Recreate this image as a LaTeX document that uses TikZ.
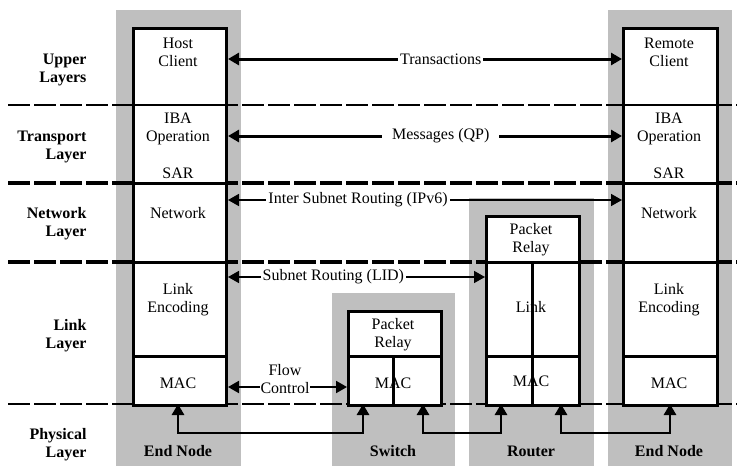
\documentclass[tikz,border=0pt]{standalone}
\usepackage{fontspec}
\setmainfont{Liberation Serif}
\usetikzlibrary{arrows.meta}

\begin{document}
\begin{tikzpicture}[
  x=1pt, y=-1pt,
  font=\fontsize{16}{18}\selectfont,
  column/.style={fill=black!25},
  box/.style={draw, line width=3pt, fill=white, anchor=north west, inner sep=0pt},
  sep/.style={line width=3pt},
  layerline/.style={line width=#1, dash pattern=on 22pt off 4pt},
  txt/.style={align=center, inner sep=1pt},
  layer/.style={anchor=east, align=right, font=\fontsize{16}{18}\selectfont\bfseries},
  tag/.style={font=\fontsize{16}{18}\selectfont\bfseries},
  conn/.style={{Triangle[length=11pt,width=12pt]}-{Triangle[length=11pt,width=12pt]}, line width=#1},
  conn/.default=1.6pt,
  onlabel/.style={fill=white, inner sep=2pt},
]
  \useasboundingbox (0,0) rectangle (737,466);

  % Grey node columns
  \fill[column] (116,10) rectangle (241,466);   % end node
  \fill[column] (332,293) rectangle (455,466);  % switch
  \fill[column] (469,198) rectangle (594,466);  % router
  \fill[column] (608,10) rectangle (732,466);   % remote end node

  % Layer boundaries
  \draw[layerline=1.8pt] (8,105) -- (737,105);
  \draw[layerline=3.2pt] (8,183) -- (737,183);
  \draw[layerline=3.2pt] (8,262) -- (737,262);
  \draw[layerline=1.6pt] (8,404) -- (737,404);

  % Stacks
  \node[box, minimum width=93pt, minimum height=377pt] (hostbox)   at (132,27) {};
  \node[box, minimum width=94pt, minimum height=377pt] (remotebox) at (622,27) {};
  \node[box, minimum width=93pt, minimum height=189pt] (routerbox) at (485,215) {};
  \node[box, minimum width=93pt, minimum height=94pt]  (switchbox) at (347,310) {};

  % Separators inside the stacks
  \foreach \xa/\xb in {132/225, 622/716} {
    \draw[line width=1.8pt] (\xa,105) -- (\xb,105);
    \draw[sep] (\xa,183) -- (\xb,183);
    \draw[sep] (\xa,262) -- (\xb,262);
    \draw[sep] (\xa,356) -- (\xb,356);
  }
  \draw[sep] (485,262) -- (578,262);
  \draw[sep] (485,356) -- (578,356);
  \draw[sep] (532,262) -- (532,404);
  \draw[sep] (347,356) -- (440,356);
  \draw[sep] (393,356) -- (393,404);

  % Layer names
  \node[layer] (upper)     at (90,70)  {Upper\\Layers};
  \node[layer] (transport) at (90,147) {Transport\\Layer};
  \node[layer] (network)   at (90,224) {Network\\Layer};
  \node[layer] (link)      at (90,336) {Link\\Layer};
  \node[layer] (physical)  at (90,445) {Physical\\Layer};

  % End node
  \node[txt] (hostclient) at (178,52)  {Host\\Client};
  \node[txt] (hostiba)    at (178,129) {IBA\\Operation};
  \node[txt] (hostsar)    at (178,173) {SAR};
  \node[txt] (hostnet)    at (178,213) {Network};
  \node[txt] (hostlink)   at (178,300) {Link\\Encoding};
  \node[txt] (hostmac)    at (178,383) {MAC};

  % Remote end node
  \node[txt] (remoteclient) at (669,52)  {Remote\\Client};
  \node[txt] (remoteiba)    at (669,129) {IBA\\Operation};
  \node[txt] (remotesar)    at (669,173) {SAR};
  \node[txt] (remotenet)    at (669,213) {Network};
  \node[txt] (remotelink)   at (669,300) {Link\\Encoding};
  \node[txt] (remotemac)    at (669,383) {MAC};

  % Router and switch
  \node[txt] (routerrelay) at (531,240) {Packet\\Relay};
  \node[txt] (routerlink)  at (531,307) {Link};
  \node[txt] (routermac)   at (531,381) {MAC};
  \node[txt] (switchrelay) at (393,335) {Packet\\Relay};
  \node[txt] (switchmac)   at (393,383) {MAC};

  % Node names
  \node[tag] (hostname)   at (178,451) {End Node};
  \node[tag] (switchname) at (393,451) {Switch};
  \node[tag] (routername) at (531,451) {Router};
  \node[tag] (remotename) at (669,451) {End Node};

  % Peer connections
  \coordinate (rowtx)   at (0,59);
  \coordinate (rowmsg)  at (0,136);
  \coordinate (rowip)   at (0,200);
  \coordinate (rowlid)  at (0,277);
  \coordinate (rowflow) at (0,387);
  \coordinate (bus)     at (0,433);

  \draw[conn=3pt] (hostbox.east |- rowtx) -- node[onlabel, pos=0.54] {Transactions} (remotebox.west |- rowtx);
  \draw[conn=3pt] (hostbox.east |- rowmsg) -- node[onlabel, inner xsep=10pt, pos=0.54] {Messages (QP)} (remotebox.west |- rowmsg);
  \draw[conn] (hostbox.east |- rowip) -- node[onlabel, pos=0.33] {Inter Subnet Routing (IPv6)} (remotebox.west |- rowip);
  \draw[conn] (hostbox.east |- rowlid) -- node[onlabel, pos=0.41] {Subnet Routing (LID)} (routerbox.west |- rowlid);
  \draw[conn=2pt] (hostbox.east |- rowflow) -- (switchbox.west |- rowflow);
  \node[onlabel, txt] (flow) at (285,379) {Flow\\Control};

  % Physical links
  \coordinate (hostphy)  at (178,404);
  \coordinate (swin)     at (363,404);
  \coordinate (swout)    at (423,404);
  \coordinate (rtin)     at (501,404);
  \coordinate (rtout)    at (561,404);
  \coordinate (remotephy) at (670,404);

  \draw[conn=2.8pt] (hostphy) |- (bus -| swin) -- (swin);
  \draw[conn=2.8pt] (swout) |- (bus -| rtin) -- (rtin);
  \draw[conn=2.8pt] (rtout) |- (bus -| remotephy) -- (remotephy);
\end{tikzpicture}
\end{document}
